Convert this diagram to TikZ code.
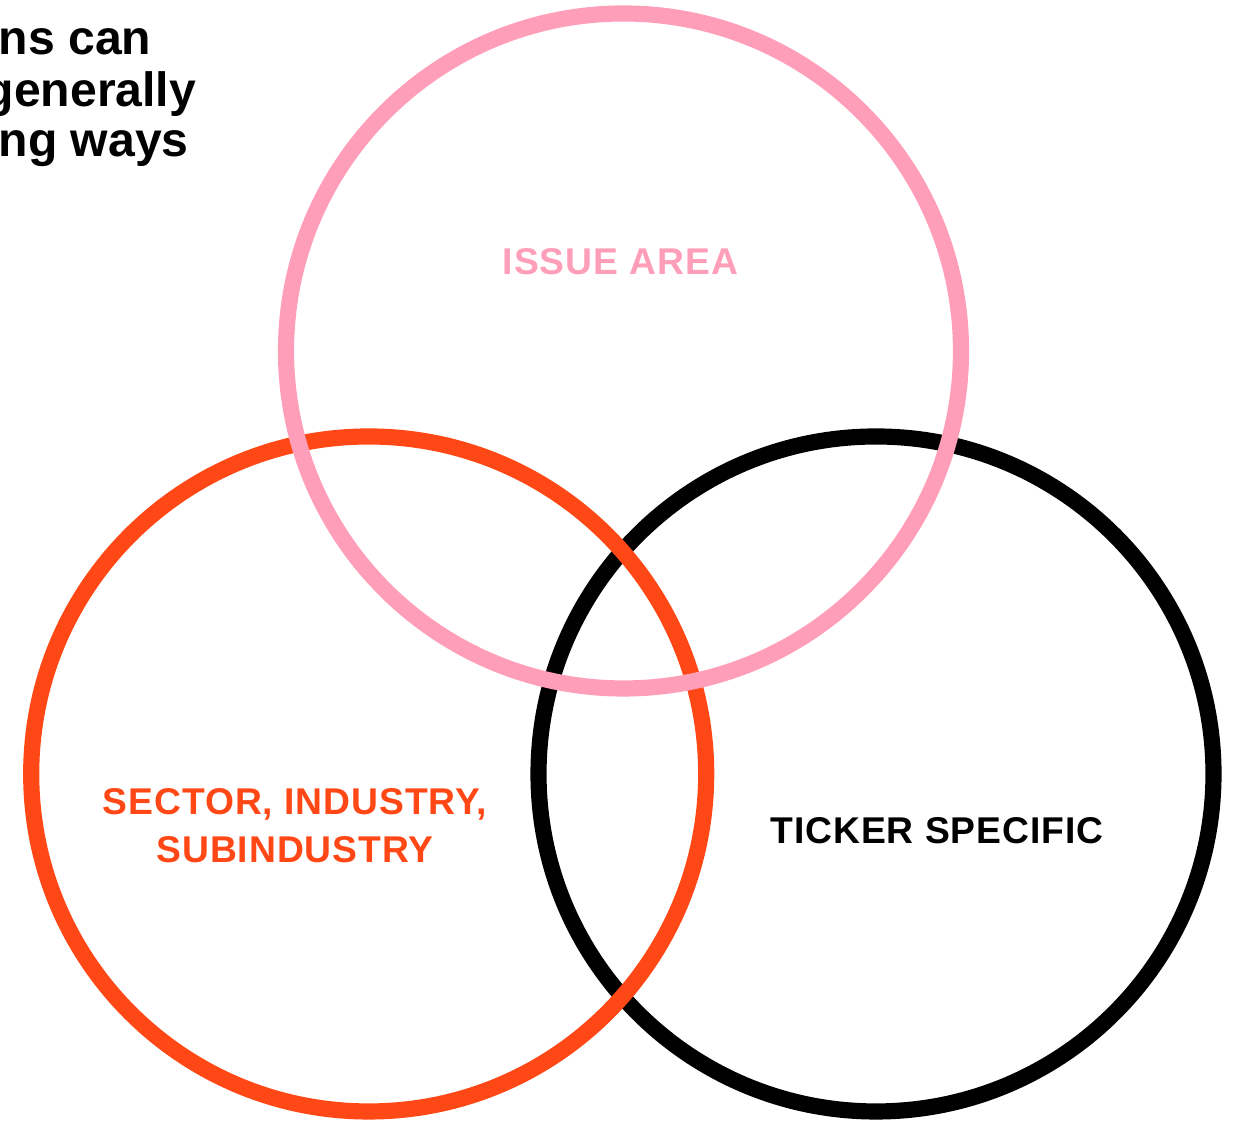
\documentclass[tikz,border=0pt]{standalone}
\usepackage{fontspec}
\setmainfont{Liberation Sans}
\definecolor{issuepink}{HTML}{FF9EB9}
\definecolor{sectorred}{HTML}{FF4816}
\tikzset{
	ring/.style={line width=4.6pt},
	heading/.style={font=\fontsize{13.7}{15}\selectfont\bfseries, inner sep=0pt, anchor=base west},
	tag/.style={font=\fontsize{10.6}{13.6}\selectfont\bfseries\addfontfeatures{LetterSpace=2.5}, inner sep=0pt},
}

\begin{document}
\begin{tikzpicture}
		%%%%% START %%%%%
		
		\useasboundingbox (0, 0) rectangle (12.38, 11.21);
		
		% heading, cut off at the left edge
		\node[heading] (headA) at (-0.02, 10.66) {ns can};
		\node[heading] (headB) at (-0.16, 10.14) {generally};
		\node[heading] (headC) at (-0.02, 9.64) {ng ways};
		
		% the three sets
		\draw[ring, color=black] (8.76, 3.47) circle (3.375);
		\draw[ring, color=sectorred] (3.687, 3.47) circle (3.375);
		\draw[ring, color=issuepink] (6.235, 7.70) circle (3.375);
		
		\node[tag, color=issuepink] (issue) at (6.205, 8.59) {ISSUE AREA};
		\node[tag, color=sectorred, align=center] (sector) at (2.95, 2.95) {SECTOR, INDUSTRY,\\SUBINDUSTRY};
		\node[tag, color=black] (ticker) at (9.37, 2.90) {TICKER SPECIFIC};
		
		%%%%% END %%%%%
	\end{tikzpicture}
\end{document}
